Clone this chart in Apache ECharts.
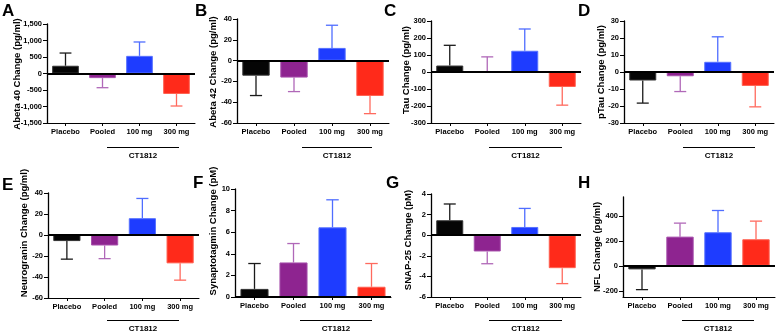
<!DOCTYPE html>
<html><head><meta charset="utf-8">
<script src="https://cdn.jsdelivr.net/npm/echarts@6/dist/echarts.min.js"></script>
<style>html,body{margin:0;padding:0;background:#fff}#c{width:777px;height:335px}</style>
</head><body><div id="c"></div>
<script>
const categories = ['Placebo', 'Pooled', '100 mg', '300 mg'];
const groupLabel = 'CT1812';

const abeta40Mean = [235, -140, 535, -620];
const abeta40Err  = [385, 290, 420, 365];
const abeta42Mean = [-14.5, -16.3, 12.2, -34];
const abeta42Err  = [19.1, 13.5, 21.8, 17];
const tauMean = [38, 2, 125, -88];
const tauErr  = [119, 87, 128, 107];
const pTauMean = [-5, -2.5, 6, -8.2];
const pTauErr  = [13.3, 9, 14.7, 12.3];
const neurograninMean = [-5.8, -10, 16, -27];
const neurograninErr  = [17.2, 12.5, 18.8, 16];
const synaptotagminMean = [0.75, 3.2, 6.45, 0.95];
const synaptotagminErr  = [2.35, 1.75, 2.55, 2.15];
const snap25Mean = [1.45, -1.58, 0.8, -3.2];
const snap25Err  = [1.58, 1.19, 1.8, 1.5];
const nflMean = [-29, 233, 268, 212];
const nflErr  = [162, 108, 174, 145];
const nflTicks = [-200, 0, 200, 400];

const barColors = ['#050505', '#8e2490', '#1e3cff', '#ff2a1a'];
const barBorders = ['#333333', '#a64fab', '#5570ff', '#ff6050'];
const errColors = ['#1a1a1a', '#b068b8', '#4f6dff', '#ff6a5e'];

const FONT = '"Liberation Sans", Arial, sans-serif';

const panels = [
  {letter:'A', title:'Abeta 40 Change (pg/ml)', mean:abeta40Mean, err:abeta40Err, min:-1500, max:1500, interval:500,
   grid:{left:47, top:24, width:148, height:99}, lp:[2,3], tp:[17,74], br:[107,179,147]},
  {letter:'B', title:'Abeta 42 Change (pg/ml)', mean:abeta42Mean, err:abeta42Err, min:-60, max:40, interval:20,
   grid:{left:237, top:19, width:152, height:104}, lp:[195,3], tp:[213,72], br:[302,372,147]},
  {letter:'C', title:'Tau Change (pg/ml)', mean:tauMean, err:tauErr, min:-300, max:300, interval:100,
   grid:{left:431, top:21, width:150, height:102}, lp:[384,3], tp:[406,70], br:[489,562,147]},
  {letter:'D', title:'pTau Change (pg/ml)', mean:pTauMean, err:pTauErr, min:-30, max:30, interval:10,
   grid:{left:624, top:21, width:150, height:102}, lp:[578,3], tp:[601,72], br:[683,755,147]},
  {letter:'E', title:'Neurogranin Change (pg/ml)', mean:neurograninMean, err:neurograninErr, min:-60, max:40, interval:20,
   grid:{left:48, top:193, width:151, height:105}, lp:[2,177], tp:[24,233], br:[107,179,320]},
  {letter:'F', title:'Synaptotagmin Change (pM)', mean:synaptotagminMean, err:synaptotagminErr, min:0, max:10, interval:2,
   grid:{left:235, top:189, width:156, height:108}, lp:[193,175], tp:[213,231], br:[300,372,320]},
  {letter:'G', title:'SNAP-25 Change (pM)', mean:snap25Mean, err:snap25Err, min:-6, max:4, interval:2,
   grid:{left:431, top:194, width:150, height:103}, lp:[386,175], tp:[408,240], br:[489,562,320]},
  {letter:'H', title:'NFL Change (pg/ml)', mean:nflMean, err:nflErr, min:-250, max:550, ticks:nflTicks,
   grid:{left:623, top:197, width:152, height:100}, lp:[578,175], tp:[597,247], br:[682,754,320]}
];

const grids = [], xAxes = [], yAxes = [], series = [], graphics = [];

panels.forEach((p, i) => {
  grids.push(Object.assign({containLabel:false}, p.grid));
  xAxes.push({
    type:'category', gridIndex:i, data:categories,
    axisLine:{show:true, onZero:false, lineStyle:{color:'#000', width:1}},
    axisTick:{show:true, alignWithLabel:true, length:3, lineStyle:{color:'#000', width:1}},
    axisLabel:{interval:0, fontSize:7.5, fontWeight:'bold', color:'#000', fontFamily:FONT, margin:5},
    splitLine:{show:false}
  });
  const y = {
    type:'value', gridIndex:i, min:p.min, max:p.max,
    axisLine:{show:true, lineStyle:{color:'#000', width:1.3}},
    axisTick:{show:true, length:4, lineStyle:{color:'#000', width:1}},
    axisLabel:{fontSize:7.5, fontWeight:'bold', color:'#000', fontFamily:FONT, margin:5},
    splitLine:{show:false}
  };
  if (p.ticks) {
    y.axisLabel.customValues = p.ticks;
    y.axisTick.customValues = p.ticks;
  } else {
    y.interval = p.interval;
  }
  yAxes.push(y);

  series.push({
    type:'bar', xAxisIndex:i, yAxisIndex:i, z:3,
    barWidth:'72%',
    data:p.mean.map((v, k) => ({value:v, itemStyle:{color:barColors[k], borderColor:barBorders[k], borderWidth:1}})),
    markLine:{silent:true, symbol:'none', label:{show:false}, animation:false,
      lineStyle:{color:'#000', width:2, type:'solid'}, data:[{yAxis:0}]}
  });
  series.push({
    type:'custom', xAxisIndex:i, yAxisIndex:i, z:2,
    encode:{x:0, y:[1,2]},
    data:p.mean.map((v, k) => [k, v, v >= 0 ? v + p.err[k] : v - p.err[k]]),
    renderItem:(params, api) => {
      const x = api.value(0);
      const p1 = api.coord([x, api.value(1)]);
      const p2 = api.coord([x, api.value(2)]);
      const hw = api.size([1, 0])[0] * 0.16;
      const c = errColors[params.dataIndex];
      return {type:'group', children:[
        {type:'line', shape:{x1:p1[0], y1:p1[1], x2:p2[0], y2:p2[1]}, style:{stroke:c, lineWidth:1.3}},
        {type:'line', shape:{x1:p2[0]-hw, y1:p2[1], x2:p2[0]+hw, y2:p2[1]}, style:{stroke:c, lineWidth:1.3}}
      ]};
    }
  });

  graphics.push({type:'text', left:p.lp[0], top:p.lp[1],
    style:{text:p.letter, font:'bold 17px ' + FONT, fill:'#000'}});
  graphics.push({type:'text', x:p.tp[0], y:p.tp[1], rotation:Math.PI/2,
    style:{text:p.title, font:'bold 9.5px ' + FONT, fill:'#000', align:'center', verticalAlign:'middle'}});
  graphics.push({type:'line', shape:{x1:p.br[0], y1:p.br[2] + 0.5, x2:p.br[1], y2:p.br[2] + 0.5},
    style:{stroke:'#000', lineWidth:1}});
  graphics.push({type:'text', x:(p.br[0]+p.br[1])/2, y:p.br[2]+9,
    style:{text:groupLabel, font:'bold 8px ' + FONT, fill:'#000', align:'center', verticalAlign:'middle'}});
});

const chart = echarts.init(document.getElementById('c'), null, {renderer:'canvas'});
chart.setOption({
  animation:false,
  backgroundColor:'#fff',
  grid:grids, xAxis:xAxes, yAxis:yAxes, series:series, graphic:graphics
});
</script></body></html>
